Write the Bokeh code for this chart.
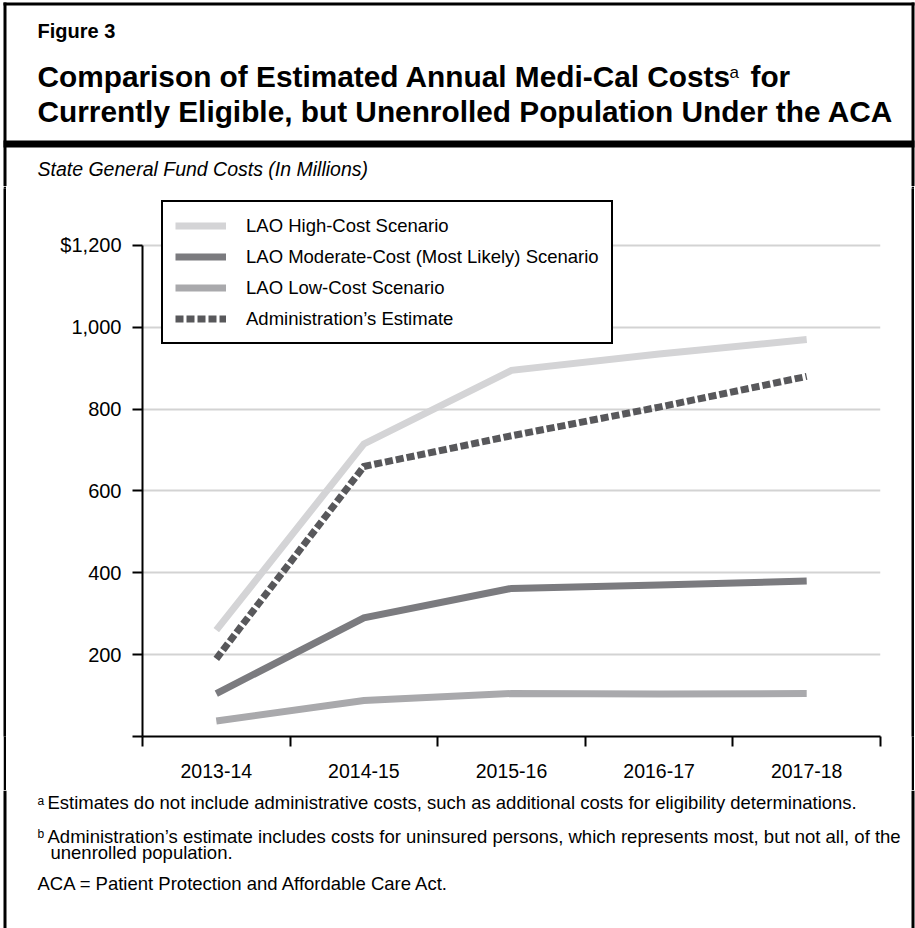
from bokeh.plotting import figure
from bokeh.layouts import column, row
from bokeh.models import Range1d, FixedTicker, Label, Legend, LegendItem, BoxAnnotation
from bokeh.embed import file_html
from bokeh.resources import INLINE

# ---------------- data ----------------
years = ["2013-14", "2014-15", "2015-16", "2016-17", "2017-18"]
high_cost = [260, 715, 895, 935, 970]
moderate_cost = [105, 290, 362, 370, 380]
low_cost = [38, 88, 105, 104, 105]
admin_estimate = [190, 660, 735, 805, 880]
y_ticks = [0, 200, 400, 600, 800, 1000, 1200]
y_tick_labels = ["", "200", "400", "600", "800", "1,000", "$1,200"]
series_names = ["LAO High-Cost Scenario",
                "LAO Moderate-Cost (Most Likely) Scenario",
                "LAO Low-Cost Scenario",
                "Administration\u2019s Estimate"]

FONT = "Liberation Sans"
W = 915
HH, HC, HF = 186, 604, 138          # header, chart, footer heights
CW = W - 6 - 4                      # chart figure width (frame lines on both sides)
FL, FR, FT, FB = 142, 880, 188, 736  # frame edges in page coordinates


def blank(width, height, y0, fill="white", margin=(0, 0, 0, 0)):
    f = figure(width=width, height=height, output_backend="svg", toolbar_location=None,
               title=None, margin=margin,
               x_range=Range1d(0, width), y_range=Range1d(y0 + height, y0),
               x_axis_location=None, y_axis_location=None,
               min_border=0, min_border_left=0, min_border_right=0,
               min_border_top=0, min_border_bottom=0)
    f.grid.visible = False
    f.outline_line_color = None
    f.background_fill_color = fill
    f.border_fill_color = fill
    return f


def box(f, l, r, t, b):
    f.add_layout(BoxAnnotation(left=l, right=r, top=t, bottom=b,
                               fill_color="black", fill_alpha=1, line_color=None))


def text(f, s, x, y, size, style="normal"):
    f.add_layout(Label(x=x, y=y, text=s, text_font=FONT, text_font_size=f"{size}px",
                       text_font_style=style, text_color="black",
                       text_baseline="alphabetic", text_align="left", level="overlay"))


# ---------------- header ----------------
head = blank(W, HH, 0)
box(head, 3, 914, 2, 5)
box(head, 3, 6, 2, HH)
box(head, 911, 914, 2, HH)
box(head, 3, 914, 140, 147)
text(head, "Figure 3", 37, 30, 20, "bold")
text(head, "Comparison of Estimated Annual Medi-Cal Costs", 37, 76, 29.8, "bold")
text(head, "a", 729, 72, 17)
text(head, "for", 750, 76, 29.8, "bold")
text(head, "Currently Eligible, but Unenrolled Population Under the ACA", 37, 111, 29.8, "bold")
text(head, "State General Fund Costs (In Millions)", 37, 168, 19.5, "italic")

# ---------------- side strips (frame lines) ----------------
lstrip = blank(3, HC, HH, fill="black", margin=(0, 0, 0, 3))
rstrip = blank(3, HC, HH, fill="black", margin=(0, 1, 0, 0))

# ---------------- chart ----------------
p = figure(width=CW, height=HC, output_backend="svg", toolbar_location=None, title=None,
           x_range=Range1d(0, len(years)), y_range=Range1d(0, 1339.3),
           min_border_left=FL - 6, min_border_right=6 + CW - FR,
           min_border_top=FT - HH, min_border_bottom=HH + HC - FB)
p.outline_line_color = None
p.background_fill_color = "white"
p.border_fill_color = "white"

xs = [i + 0.5 for i in range(len(years))]

yax = p.yaxis[0]
yax.ticker = FixedTicker(ticks=y_ticks)
yax.major_label_overrides = dict(zip(y_ticks, y_tick_labels))
yax.bounds = (0, 1200)
yax.major_tick_out = 10
yax.major_tick_in = 0
yax.minor_tick_out = 0
yax.minor_tick_in = 0
yax.axis_line_width = 2
yax.axis_line_color = "black"
yax.major_tick_line_width = 2
yax.major_tick_line_color = "black"
yax.major_label_text_font = FONT
yax.major_label_text_font_size = "20px"
yax.major_label_text_color = "black"
yax.major_label_standoff = 11

xax = p.xaxis[0]
xax.ticker = FixedTicker(ticks=xs, minor_ticks=list(range(len(years) + 1)))
xax.major_label_overrides = dict(zip(xs, years))
xax.major_tick_out = 0
xax.major_tick_in = 0
xax.minor_tick_out = 10
xax.minor_tick_in = 0
xax.minor_tick_line_width = 2
xax.minor_tick_line_color = "black"
xax.axis_line_width = 2
xax.axis_line_color = "black"
xax.major_label_text_font = FONT
xax.major_label_text_font_size = "19.5px"
xax.major_label_text_color = "black"
xax.major_label_standoff = 17

p.xgrid.visible = False
p.ygrid.ticker = FixedTicker(ticks=y_ticks[1:])
p.ygrid.grid_line_color = "#d3d3d3"
p.ygrid.grid_line_width = 2

r_high = p.line(xs, high_cost, line_color="#d4d4d6", line_width=7, line_join="miter")
r_mod = p.line(xs, moderate_cost, line_color="#7b7b7f", line_width=7, line_join="miter")
r_low = p.line(xs, low_cost, line_color="#a9a9ac", line_width=7, line_join="miter")
r_adm = p.line(xs, admin_estimate, line_color="#58585b", line_width=7,
               line_dash="8 3", line_join="miter")

legend = Legend(items=[LegendItem(label=n, renderers=[r])
                       for n, r in zip(series_names, [r_high, r_mod, r_low, r_adm])],
                location=(161 - FL, FB - 344))
legend.glyph_width = 51
legend.glyph_height = 23
legend.label_height = 23
legend.spacing = 8
legend.padding = 12
legend.margin = 0
legend.label_standoff = 20
legend.border_line_color = "black"
legend.border_line_alpha = 1
legend.border_line_width = 2.5
legend.background_fill_color = "white"
legend.background_fill_alpha = 1
legend.label_text_font = FONT
legend.label_text_font_size = "18.5px"
legend.label_text_color = "black"
p.add_layout(legend)

p.add_layout(Label(x=453 - FL, y=FB - 317, x_units="screen", y_units="screen",
                   text="b", text_font=FONT, text_font_size="12px", text_color="black",
                   text_baseline="alphabetic", level="overlay"))

# ---------------- footer ----------------
foot = blank(W, HF, HH + HC)
box(foot, 3, 6, HH + HC, HH + HC + HF)
box(foot, 911, 914, HH + HC, HH + HC + HF)
text(foot, "a", 37, 800, 12)
text(foot, "Estimates do not include administrative costs, such as additional costs for eligibility determinations.",
     47, 802, 18.5)
text(foot, "b", 37, 833, 12)
text(foot, "Administration\u2019s estimate includes costs for uninsured persons, which represents most, but not all, of the",
     47, 836, 18.5)
text(foot, "unenrolled population.", 50, 852, 18.5)
text(foot, "ACA = Patient Protection and Affordable Care Act.", 37, 883, 18.5)

layout = column(head, row(lstrip, p, rstrip, spacing=0), foot, spacing=0)
open("out.html", "w").write(file_html(layout, INLINE))
